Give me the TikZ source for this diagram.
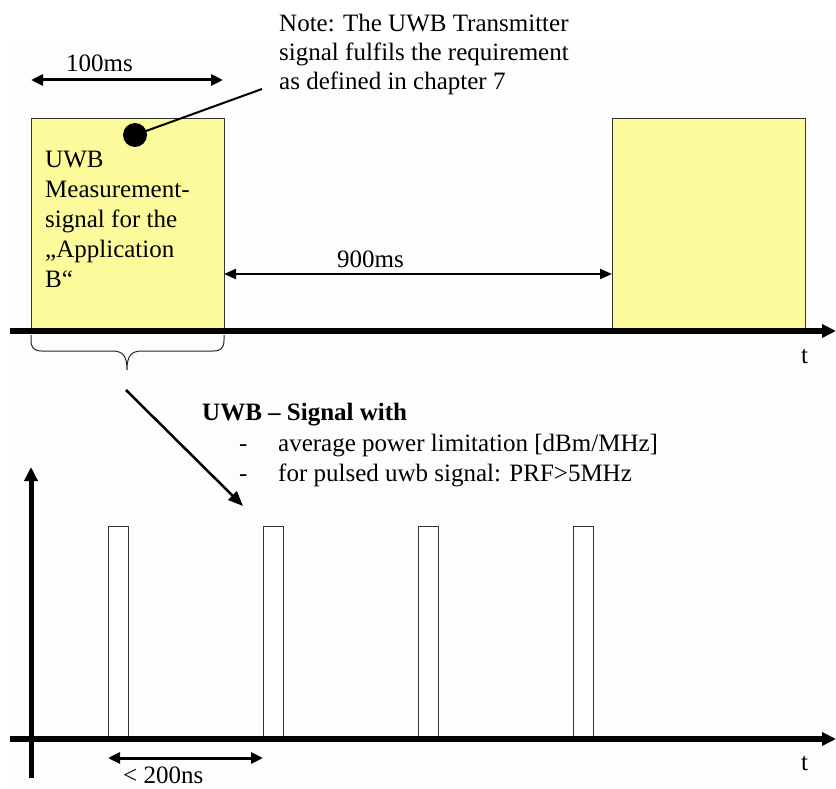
\documentclass[tikz,border=0pt]{standalone}
\usepackage{fontspec}
\setmainfont{Liberation Serif}
\usetikzlibrary{arrows.meta}
\definecolor{pale}{RGB}{251,251,155}
\definecolor{bgtint}{RGB}{253,253,253}
\begin{document}
\begin{tikzpicture}[x=1pt,y=-1pt,
  every node/.style={font=\fontsize{25}{29}\selectfont, inner sep=0pt},
  lbl/.style={anchor=base west},
  ybox/.style={draw=black!80, line width=1pt, fill=pale, anchor=north west, minimum width=193pt, minimum height=213pt},
  pulse/.style={draw=black!80, line width=1pt, fill=white, anchor=north west, minimum width=20pt, minimum height=213pt},
  axis/.style={line width=5.5pt, -{Triangle[length=14pt,width=13pt]}},
  dimarrow/.style={line width=3pt, {Triangle[length=12pt,width=11pt]}-{Triangle[length=12pt,width=11pt]}},
  thinarrow/.style={line width=2pt, {Triangle[length=12pt,width=10pt]}-{Triangle[length=12pt,width=10pt]}},
  pointer/.style={line width=2.5pt, -{Triangle[length=15pt,width=12pt]}}]
\useasboundingbox (0,0) rectangle (836,789);
\fill[bgtint] (8,41) rectangle (836,789);

% top part
\node[ybox] (b1) at (31,118) {};
\node[ybox] (b2) at (612,118) {};
\coordinate (tl) at (10,331);
\coordinate (tr) at (836,331);
\draw[axis] (tl) -- (tr);
\node[lbl] (t1) at (801,363) {t};

\coordinate (h1l) at (31,80);
\coordinate (h1r) at (223,80);
\draw[dimarrow] (h1l) -- (h1r);
\node[lbl] (l100) at (66,72) {100ms};

\coordinate (n1l) at (224,274);
\coordinate (n1r) at (612,274);
\draw[thinarrow] (n1l) -- (n1r);
\node[lbl] (l900) at (337,267) {900ms};

\node[circle, fill=black, minimum size=24pt] (dot) at (135,135) {};
\coordinate (notept) at (262,89);
\draw[line width=2pt] (dot.center) -- (notept);
\node[lbl] (n1) at (279,32) {Note: The UWB Transmitter};
\node[lbl] (n2) at (279,61) {signal fulfils the requirement};
\node[lbl] (n3) at (279,90) {as defined in chapter 7};

\node[lbl] (u1) at (45,168) {UWB};
\node[lbl] (u2) at (45,198) {Measurement-};
\node[lbl] (u3) at (45,227.5) {signal for the};
\node[lbl] (u4) at (45,257) {„Application};
\node[lbl] (u5) at (45,287) {B“};

% brace
\coordinate (brtip) at (127,370);
\draw[line width=1pt, black!85] (31,335) -- (31,340) .. controls (31,348) and (34,351) .. (42,351)
  -- (112,351) .. controls (123,351) and (127,356) .. (brtip)
  .. controls (127,356) and (131,351) .. (142,351)
  -- (213,351) .. controls (221,351) and (224,348) .. (224,340) -- (224,335);

\coordinate (ps) at (126,390);
\coordinate (pe) at (243,506);
\draw[pointer] (ps) -- (pe);

\node[lbl, font=\fontsize{25}{29}\selectfont\bfseries] (sw) at (202,420) {UWB – Signal with};
\node[lbl] (d1) at (239,451) {-};
\node[lbl] (i1) at (278,451) {average power limitation [dBm/MHz]};
\node[lbl] (d2) at (239,481) {-};
\node[lbl] (i2) at (278,481) {for pulsed uwb signal: PRF>5MHz};

% bottom part
\node[pulse] (p1) at (108,526) {};
\node[pulse] (p2) at (263,526) {};
\node[pulse] (p3) at (418,526) {};
\node[pulse] (p4) at (573,526) {};
\coordinate (bl) at (10,739);
\coordinate (br) at (836,739);
\draw[axis] (bl) -- (br);
\coordinate (yb) at (31,778);
\coordinate (yt) at (31,467);
\draw[axis, line width=5pt] (yb) -- (yt);
\node[lbl] (t2) at (801,770) {t};

\coordinate (s1) at (108,758);
\coordinate (s2) at (263,758);
\draw[dimarrow] (s1) -- (s2);
\node[lbl] (l200) at (123,783) {< 200ns};
\end{tikzpicture}
\end{document}
